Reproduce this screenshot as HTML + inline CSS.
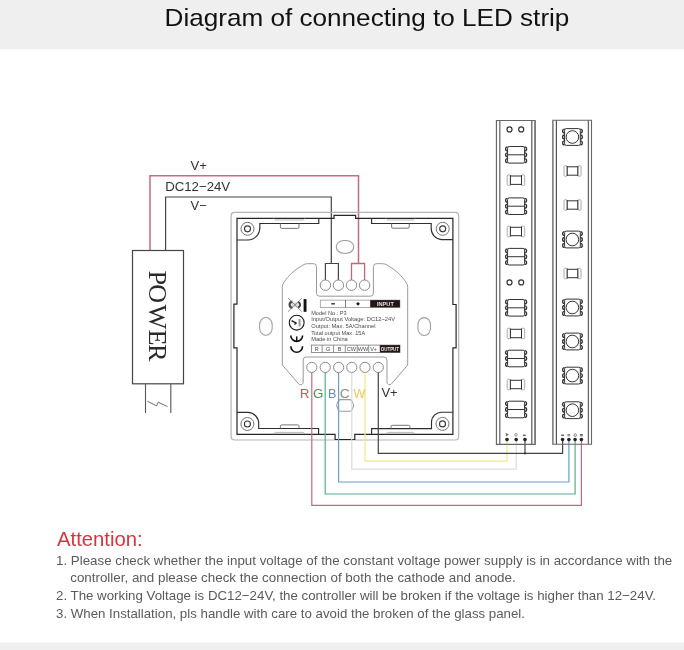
<!DOCTYPE html>
<html><head><meta charset="utf-8">
<style>
html,body{margin:0;padding:0;background:#fff;}
body{width:684px;height:650px;overflow:hidden;position:relative;font-family:"Liberation Sans",sans-serif;}
svg{position:absolute;left:0;top:0;display:block;will-change:transform;}
</style></head>
<body>
<svg width="684" height="650" viewBox="0 0 684 650" font-family="Liberation Sans, sans-serif">
<defs>
<linearGradient id="hs" x1="0" y1="0" x2="0" y2="1"><stop offset="0" stop-color="#fafafa"/><stop offset="1" stop-color="#ffffff"/></linearGradient>
</defs>
<!-- header -->
<rect x="0" y="0" width="684" height="49" fill="#efefef"/>
<rect x="0" y="49" width="684" height="4" fill="url(#hs)"/>
<text x="164.6" y="26.3" font-size="24.6" fill="#111" textLength="404.8" lengthAdjust="spacingAndGlyphs">Diagram of connecting to LED strip</text>
<!-- footer band -->
<rect x="0" y="642.5" width="684" height="8" fill="#efefef"/>

<!-- ===== power supply ===== -->
<g fill="none" stroke-linejoin="miter">
<polyline points="150,250.5 150,175.7 358.5,175.7 358.5,263.5" stroke="#cc6a7e" stroke-width="1.5"/>
<polyline points="351.5,280 351.5,263.5 364.6,263.5 364.6,280" stroke="#c86478" stroke-width="1.3"/>
<polyline points="165.6,250.5 165.6,197 331.3,197 331.3,263.5" stroke="#444" stroke-width="1.2"/>
<polyline points="325.4,280 325.4,263.5 338.4,263.5 338.4,280" stroke="#444" stroke-width="1.2"/>
<rect x="132.5" y="250.5" width="51" height="133.3" stroke="#444" stroke-width="1.2"/>
<line x1="145.5" y1="384" x2="145.5" y2="413" stroke="#555" stroke-width="1.1"/>
<line x1="170.8" y1="384" x2="170.8" y2="413" stroke="#555" stroke-width="1.1"/>
<polyline points="147.5,401.3 156.5,405.8 158.3,402.2 167.5,406.6" stroke="#444" stroke-width="0.8"/>
</g>
<text transform="translate(149.2,0) rotate(90)" font-family="Liberation Serif, serif" font-size="26.2" fill="#2a2a2a" x="270.4 284.3 304.6 329.6 344.1" y="0">POWER</text>
<text x="190.6" y="170.2" font-size="13" fill="#333" textLength="16.4" lengthAdjust="spacingAndGlyphs">V+</text>
<text x="165.2" y="190.5" font-size="13" fill="#333" textLength="65" lengthAdjust="spacingAndGlyphs">DC12−24V</text>
<text x="190.6" y="210.4" font-size="13" fill="#333" textLength="16.2" lengthAdjust="spacingAndGlyphs">V−</text>

<!-- ===== panel ===== -->
<g fill="none">
<rect x="231.1" y="212.4" width="227.6" height="227.6" rx="3.5" stroke="#b4b4b4" stroke-width="1.2"/>
<path d="M237 218.3 L334 218.3 L334 215.3 L355.6 215.3 L355.6 218.3 L452.9 218.3 L452.9 304.5 L456.1 304.5 L456.1 347.8 L452.9 347.8 L452.9 434.3 L354.8 434.3 L354.8 439.5 L335.1 439.5 L335.1 434.3 L237 434.3 L237 347.8 L233.9 347.8 L233.9 304.2 L237 304.2 Z" stroke="#262626" stroke-width="1.2"/>
<path d="M237 240 L248 240 A12 12 0 0 0 259.8 228 L259.8 223.5 L318.8 223.5 L318.8 218.3" stroke="#2e2e2e" stroke-width="1.15"/>
<path d="M452.9 239.6 L441.5 239.6 A11 11 0 0 1 431.2 228.6 L431.2 223.5 L371.6 223.5 L371.6 218.3" stroke="#2e2e2e" stroke-width="1.15"/>
<path d="M237 412.4 L248 412.4 A11 11 0 0 1 258.7 423.4 L258.7 428.5 L318.6 428.5 L318.6 434.3" stroke="#2e2e2e" stroke-width="1.15"/>
<path d="M452.9 412.2 L441.5 412.2 A10 10 0 0 0 431.5 422.2 L431.5 428.6 L371.6 428.6 L371.6 434.3" stroke="#2e2e2e" stroke-width="1.15"/>
<!-- tabs -->
<path d="M280.4 223.4 L280.4 227 Q280.4 228.4 281.8 228.4 L297.6 228.4 Q299 228.4 299 227 L299 223.4" stroke="#666" stroke-width="0.9"/>
<path d="M391.6 223.4 L391.6 227 Q391.6 228.2 392.8 228.2 L408 228.2 Q409.2 228.2 409.2 227 L409.2 223.4" stroke="#666" stroke-width="0.9"/>
<path d="M280.4 428.5 L280.4 426.2 Q280.4 424.9 281.7 424.9 L297.7 424.9 Q299 424.9 299 426.2 L299 428.5" stroke="#666" stroke-width="0.9"/>
<path d="M391 428.6 L391 426.6 Q391 425.3 392.3 425.3 L408.6 425.3 Q409.9 425.3 409.9 426.6 L409.9 428.6" stroke="#666" stroke-width="0.9"/>
<path d="M273.4 218.3 L275.4 220 L303.2 220 L305.2 218.3" stroke="#aaa" stroke-width="0.8"/>
<path d="M385.5 218.3 L387.5 220 L413.3 220 L415.3 218.3" stroke="#aaa" stroke-width="0.8"/>
<path d="M273.4 434 L275.4 432.4 L303.2 432.4 L305.2 434" stroke="#aaa" stroke-width="0.8"/>
<path d="M385.5 434 L387.5 432.4 L413.1 432.4 L415.1 434" stroke="#aaa" stroke-width="0.8"/>
<!-- bosses -->
<g stroke="#666" stroke-width="0.9">
<circle cx="247.5" cy="228.8" r="6.5"/><circle cx="442.7" cy="228.8" r="6.5"/><circle cx="247.4" cy="424" r="6.5"/><circle cx="442.5" cy="423.9" r="6.5"/>
</g>
<g stroke="#3a3a3a" stroke-width="1.15">
<circle cx="247.5" cy="228.8" r="3"/><circle cx="442.7" cy="228.8" r="3"/><circle cx="247.4" cy="424" r="3"/><circle cx="442.5" cy="423.9" r="3"/>
</g>
<!-- slots -->
<g stroke="#9c9c9c" stroke-width="1.05">
<rect x="259.6" y="317.5" width="12.6" height="17.8" rx="6.3" ry="7.2"/>
<rect x="417.9" y="317.6" width="12.6" height="17.8" rx="6.3" ry="7.2"/>
<rect x="336.3" y="240.5" width="17.4" height="12.8" rx="7.6" ry="6.2"/>
<path d="M340.5 399.6 L349.7 399.6 Q351.3 399.6 352.2 401.4 L353.7 405.4 L352.2 409.4 Q351.3 411.2 349.7 411.2 L340.5 411.2 Q338.9 411.2 338 409.4 L336.6 405.4 L338 401.4 Q338.9 399.6 340.5 399.6 Z"/>
</g>
<!-- module outline -->
<path d="M282.3 365 L282.3 287.5 Q282.3 284.5 283.8 282.5 Q290 272.5 303 265 Q305 263.7 307.5 263.7 L313.5 263.7 Q316.5 263.7 316.5 266.7 L316.5 293.2 Q316.5 296.2 319.5 296.2 L370.4 296.2 Q373.4 296.2 373.4 293.2 L373.4 266.7 Q373.4 263.7 376.4 263.7 L382.5 263.7 Q385 263.7 387 265 Q400 272.5 406.2 282.5 Q407.7 284.5 407.7 287.5 L407.7 365 L391.7 383.7 Q390.2 385.3 388.4 384.5 Q387 383.8 387 382 L387 360 Q387 357 384 357 L306.2 357 Q303.2 357 303.2 360 L303.2 382 Q303.2 383.8 301.8 384.5 Q300 385.3 298.5 383.7 L282.3 365" stroke="#999" stroke-width="1"/>
<!-- terminals -->
<g stroke="#888" stroke-width="1" fill="#fff">
<circle cx="325.4" cy="285.2" r="5.2"/><circle cx="338.4" cy="285.2" r="5.2"/><circle cx="351.5" cy="285.2" r="5.2"/><circle cx="364.6" cy="285.2" r="5.2"/>
<circle cx="311.8" cy="367.4" r="5.1"/><circle cx="325.2" cy="367.4" r="5.1"/><circle cx="338.6" cy="367.4" r="5.1"/><circle cx="351.8" cy="367.4" r="5.1"/><circle cx="365" cy="367.4" r="5.1"/><circle cx="378.3" cy="367.4" r="5.1"/>
</g>
</g>

<!-- label -->
<g font-size="6" fill="#4a4a4a">
<rect x="320.3" y="300.1" width="79.6" height="7.3" fill="#fff" stroke="#999" stroke-width="0.8"/>
<line x1="345.5" y1="300.1" x2="345.5" y2="307.4" stroke="#555" stroke-width="0.8"/>
<rect x="370.2" y="300.1" width="29.7" height="7.3" fill="#231815"/>
<rect x="331.3" y="303.1" width="3.6" height="1.4" fill="#333"/>
<path d="M358 301.9 L359.9 303.8 L358 305.7 L356.1 303.8 Z" fill="#1a1a1a"/>
<text x="377" y="306.1" font-size="6.2" font-weight="bold" fill="#e0e0e0" textLength="16.8" lengthAdjust="spacingAndGlyphs">INPUT</text>
<text x="311.2" y="315" textLength="35.5" lengthAdjust="spacingAndGlyphs">Model No.: P3</text>
<text x="311.2" y="321.3" textLength="83.8" lengthAdjust="spacingAndGlyphs">Input/Output Voltage: DC12~24V</text>
<text x="311.2" y="328.3" textLength="64.3" lengthAdjust="spacingAndGlyphs">Output: Max. 5A/Channel</text>
<text x="311.2" y="334.7" textLength="54" lengthAdjust="spacingAndGlyphs">Total output Max. 15A</text>
<text x="311.2" y="341.3" textLength="36.6" lengthAdjust="spacingAndGlyphs">Made in China</text>
<rect x="311.4" y="345.1" width="88.6" height="7.4" fill="#fff" stroke="#777" stroke-width="0.8"/>
<g stroke="#777" stroke-width="0.8">
<line x1="322.2" y1="345.1" x2="322.2" y2="352.5"/><line x1="333.5" y1="345.1" x2="333.5" y2="352.5"/><line x1="345.3" y1="345.1" x2="345.3" y2="352.5"/><line x1="357.2" y1="345.1" x2="357.2" y2="352.5"/><line x1="368.7" y1="345.1" x2="368.7" y2="352.5"/>
</g>
<rect x="379.8" y="345.1" width="20.2" height="7.4" fill="#231815"/>
<g font-size="5.5" text-anchor="middle">
<text x="316.8" y="351">R</text><text x="328.1" y="351">G</text><text x="339.5" y="351">B</text><text x="351.3" y="351">CW</text><text x="363" y="351">WW</text><text x="373.6" y="351">V+</text>
</g>
<text x="380.8" y="351.1" font-size="5.8" font-weight="bold" fill="#f0f0f0" textLength="18.2" lengthAdjust="spacingAndGlyphs">OUTPUT</text>
</g>
<!-- icons -->
<g stroke="#444" fill="none">
<rect x="291.5" y="302.4" width="7.2" height="4.8" fill="#d8d8d8" stroke="none"/>
<path d="M292.2 300.6 Q288.5 301.2 288.5 304.8 Q288.5 308.4 292.2 309 L292.6 307 Q290.7 306.2 290.7 304.8 Q290.7 303.4 292.6 302.6 Z" fill="#4a4a4a" stroke="none"/>
<path d="M298.4 301 Q301.1 302 301.1 304.8 Q301.1 307.6 298.4 308.5 L298 306.6 Q299.3 305.8 299.3 304.8 Q299.3 303.6 298 302.8 Z" fill="#3a3a3a" stroke="none"/>
<line x1="288.1" y1="298.1" x2="301.8" y2="311.6" stroke="#666" stroke-width="0.7"/>
<line x1="301.8" y1="298.1" x2="288.1" y2="311.6" stroke="#666" stroke-width="0.7"/>
<rect x="303.6" y="299.1" width="2.9" height="12.7" fill="#141010" stroke="none"/>
<circle cx="296.7" cy="322.7" r="7.4" stroke="#1a1a1a" stroke-width="1.1"/>
<path d="M291.6 320.6 L296.2 323.2 L294.4 324.6" stroke="#1a1a1a" stroke-width="1.3"/>
<path d="M299.6 319 L299.6 326.4" stroke="#999" stroke-width="2"/>
<path d="M290.8 335.5 A5.9 5.9 0 0 0 302.6 335.5" stroke="#111" stroke-width="1.6"/>
<line x1="296.7" y1="336.4" x2="296.7" y2="341" stroke="#111" stroke-width="1.5"/>
<path d="M290.8 346.3 A5.9 6 0 0 0 302.6 346.3" stroke="#111" stroke-width="1.6"/>
</g>

<!-- ===== output wires ===== -->
<g fill="none" stroke-width="1.2">
<polyline points="311.8,372.5 311.8,505.4 581.4,505.4 581.4,439.6" stroke="#c8687c"/>
<polyline points="325.2,372.5 325.2,494 575.1,494 575.1,439.6" stroke="#5aae88"/>
<polyline points="338.6,372.5 338.6,482 568.9,482 568.9,439.6" stroke="#68a2c2"/>
<polyline points="351.8,372.5 351.8,469.2 516.2,469.2 516.2,439.6" stroke="#dcdadf"/>
<polyline points="365,372.5 365,461.2 507,461.2 507,439.6" stroke="#efe888"/>
<polyline points="378.3,372.5 378.3,453.4 562.6,453.4 562.6,439.6" stroke="#444"/>
<line x1="525" y1="453.4" x2="525" y2="439.6" stroke="#444"/>
</g>
<circle cx="525" cy="453.4" r="1" fill="#333"/>
<g font-size="12.2">
<text x="300" y="397.5" fill="#e04a58" textLength="9.4" lengthAdjust="spacingAndGlyphs">R</text>
<text x="313" y="397.5" fill="#33a05a" textLength="10.4" lengthAdjust="spacingAndGlyphs">G</text>
<text x="328" y="397.5" fill="#4a94d8" textLength="8.4" lengthAdjust="spacingAndGlyphs">B</text>
<text x="339.8" y="397.5" fill="#8a8a8a" textLength="10" lengthAdjust="spacingAndGlyphs">C</text>
<text x="353.6" y="397.5" fill="#f0c850" textLength="11.8" lengthAdjust="spacingAndGlyphs">W</text>
</g>
<text x="381.4" y="396.7" font-size="13" fill="#333">V+</text>

<!-- ===== LED strips ===== -->
<g fill="none" stroke="#666">
<path d="M496.45 444.3 L496.45 120.5 L535.1 120.5 L535.1 444.3 Z" stroke-width="1.2"/>
<line x1="499.8" y1="120.5" x2="499.8" y2="444.3" stroke-width="1.4" stroke="#777"/>
<line x1="531.8" y1="120.5" x2="531.8" y2="444.3" stroke-width="1.3"/>
<line x1="535.1" y1="120.5" x2="535.1" y2="444.3" stroke-width="1.4" stroke="#777"/>
<path d="M552.8 444.3 L552.8 120.3 L591.5 120.3 L591.5 444.3 Z" stroke-width="1.1"/>
<line x1="552.8" y1="120.3" x2="552.8" y2="444.3" stroke-width="1.4" stroke="#8a8a8a"/>
<line x1="556.4" y1="120.3" x2="556.4" y2="444.3" stroke-width="1.2" stroke="#555"/>
<line x1="588.4" y1="120.3" x2="588.4" y2="444.3" stroke-width="1.3"/>
</g>
<g id="strips" fill="none" stroke="#333" stroke-width="1">
<circle cx="509.5" cy="129.4" r="2.5" stroke-width="1.2"/><circle cx="521.2" cy="129.4" r="2.5" stroke-width="1.2"/>
<circle cx="509.5" cy="282.4" r="2.5" stroke-width="1.2"/><circle cx="521.2" cy="282.4" r="2.5" stroke-width="1.2"/>
<rect x="507.6" y="146.5" width="17.0" height="16.6" rx="1.6"/>
<line x1="507.6" y1="154.8" x2="524.6" y2="154.8"/>
<path d="M507.6 146.9 A2 2 0 0 0 507.6 150.9" stroke-width="1.3"/>
<path d="M524.6 146.9 A2 2 0 0 1 524.6 150.9" stroke-width="1.3"/>
<path d="M507.6 152.8 A2 2 0 0 0 507.6 156.8" stroke-width="1.3"/>
<path d="M524.6 152.8 A2 2 0 0 1 524.6 156.8" stroke-width="1.3"/>
<path d="M507.6 158.7 A2 2 0 0 0 507.6 162.7" stroke-width="1.3"/>
<path d="M524.6 158.7 A2 2 0 0 1 524.6 162.7" stroke-width="1.3"/>
<rect x="507.6" y="197.9" width="17.0" height="16.6" rx="1.6"/>
<line x1="507.6" y1="206.2" x2="524.6" y2="206.2"/>
<path d="M507.6 198.3 A2 2 0 0 0 507.6 202.3" stroke-width="1.3"/>
<path d="M524.6 198.3 A2 2 0 0 1 524.6 202.3" stroke-width="1.3"/>
<path d="M507.6 204.2 A2 2 0 0 0 507.6 208.2" stroke-width="1.3"/>
<path d="M524.6 204.2 A2 2 0 0 1 524.6 208.2" stroke-width="1.3"/>
<path d="M507.6 210.1 A2 2 0 0 0 507.6 214.1" stroke-width="1.3"/>
<path d="M524.6 210.1 A2 2 0 0 1 524.6 214.1" stroke-width="1.3"/>
<rect x="507.6" y="248.4" width="17.0" height="16.6" rx="1.6"/>
<line x1="507.6" y1="256.7" x2="524.6" y2="256.7"/>
<path d="M507.6 248.8 A2 2 0 0 0 507.6 252.8" stroke-width="1.3"/>
<path d="M524.6 248.8 A2 2 0 0 1 524.6 252.8" stroke-width="1.3"/>
<path d="M507.6 254.7 A2 2 0 0 0 507.6 258.7" stroke-width="1.3"/>
<path d="M524.6 254.7 A2 2 0 0 1 524.6 258.7" stroke-width="1.3"/>
<path d="M507.6 260.6 A2 2 0 0 0 507.6 264.6" stroke-width="1.3"/>
<path d="M524.6 260.6 A2 2 0 0 1 524.6 264.6" stroke-width="1.3"/>
<rect x="507.6" y="299.5" width="17.0" height="16.6" rx="1.6"/>
<line x1="507.6" y1="307.8" x2="524.6" y2="307.8"/>
<path d="M507.6 299.9 A2 2 0 0 0 507.6 303.9" stroke-width="1.3"/>
<path d="M524.6 299.9 A2 2 0 0 1 524.6 303.9" stroke-width="1.3"/>
<path d="M507.6 305.8 A2 2 0 0 0 507.6 309.8" stroke-width="1.3"/>
<path d="M524.6 305.8 A2 2 0 0 1 524.6 309.8" stroke-width="1.3"/>
<path d="M507.6 311.7 A2 2 0 0 0 507.6 315.7" stroke-width="1.3"/>
<path d="M524.6 311.7 A2 2 0 0 1 524.6 315.7" stroke-width="1.3"/>
<rect x="507.6" y="350.2" width="17.0" height="16.6" rx="1.6"/>
<line x1="507.6" y1="358.5" x2="524.6" y2="358.5"/>
<path d="M507.6 350.6 A2 2 0 0 0 507.6 354.6" stroke-width="1.3"/>
<path d="M524.6 350.6 A2 2 0 0 1 524.6 354.6" stroke-width="1.3"/>
<path d="M507.6 356.5 A2 2 0 0 0 507.6 360.5" stroke-width="1.3"/>
<path d="M524.6 356.5 A2 2 0 0 1 524.6 360.5" stroke-width="1.3"/>
<path d="M507.6 362.4 A2 2 0 0 0 507.6 366.4" stroke-width="1.3"/>
<path d="M524.6 362.4 A2 2 0 0 1 524.6 366.4" stroke-width="1.3"/>
<rect x="507.6" y="401.2" width="17.0" height="16.6" rx="1.6"/>
<line x1="507.6" y1="409.5" x2="524.6" y2="409.5"/>
<path d="M507.6 401.6 A2 2 0 0 0 507.6 405.6" stroke-width="1.3"/>
<path d="M524.6 401.6 A2 2 0 0 1 524.6 405.6" stroke-width="1.3"/>
<path d="M507.6 407.5 A2 2 0 0 0 507.6 411.5" stroke-width="1.3"/>
<path d="M524.6 407.5 A2 2 0 0 1 524.6 411.5" stroke-width="1.3"/>
<path d="M507.6 413.4 A2 2 0 0 0 507.6 417.4" stroke-width="1.3"/>
<path d="M524.6 413.4 A2 2 0 0 1 524.6 417.4" stroke-width="1.3"/>
<rect x="507.2" y="174.9" width="3.2" height="10.6" rx="1.2" stroke="#aaa"/>
<rect x="521.5" y="174.9" width="3.2" height="10.6" rx="1.2" stroke="#aaa"/>
<path d="M510.4 175.2 L510.4 185.2 M521.5 175.2 L521.5 185.2 M510.4 176.0 L521.5 176.0 M510.4 184.4 L521.5 184.4"/>
<rect x="507.2" y="226.2" width="3.2" height="10.6" rx="1.2" stroke="#aaa"/>
<rect x="521.5" y="226.2" width="3.2" height="10.6" rx="1.2" stroke="#aaa"/>
<path d="M510.4 226.5 L510.4 236.5 M521.5 226.5 L521.5 236.5 M510.4 227.3 L521.5 227.3 M510.4 235.7 L521.5 235.7"/>
<rect x="507.2" y="328.2" width="3.2" height="10.6" rx="1.2" stroke="#aaa"/>
<rect x="521.5" y="328.2" width="3.2" height="10.6" rx="1.2" stroke="#aaa"/>
<path d="M510.4 328.5 L510.4 338.5 M521.5 328.5 L521.5 338.5 M510.4 329.3 L521.5 329.3 M510.4 337.7 L521.5 337.7"/>
<rect x="507.2" y="379.2" width="3.2" height="10.6" rx="1.2" stroke="#aaa"/>
<rect x="521.5" y="379.2" width="3.2" height="10.6" rx="1.2" stroke="#aaa"/>
<path d="M510.4 379.5 L510.4 389.5 M521.5 379.5 L521.5 389.5 M510.4 380.3 L521.5 380.3 M510.4 388.7 L521.5 388.7"/>
<rect x="564.6" y="128.6" width="15.7" height="16.8" rx="1.6"/>
<circle cx="572.4" cy="137.0" r="6.3"/>
<path d="M564.6 129.1 A2 2 0 0 0 564.6 133.1" stroke-width="1.3"/>
<path d="M580.3 129.1 A2 2 0 0 1 580.3 133.1" stroke-width="1.3"/>
<path d="M564.6 135.0 A2 2 0 0 0 564.6 139.0" stroke-width="1.3"/>
<path d="M580.3 135.0 A2 2 0 0 1 580.3 139.0" stroke-width="1.3"/>
<path d="M564.6 140.9 A2 2 0 0 0 564.6 144.9" stroke-width="1.3"/>
<path d="M580.3 140.9 A2 2 0 0 1 580.3 144.9" stroke-width="1.3"/>
<rect x="564.6" y="231.1" width="15.7" height="16.8" rx="1.6"/>
<circle cx="572.4" cy="239.5" r="6.3"/>
<path d="M564.6 231.6 A2 2 0 0 0 564.6 235.6" stroke-width="1.3"/>
<path d="M580.3 231.6 A2 2 0 0 1 580.3 235.6" stroke-width="1.3"/>
<path d="M564.6 237.5 A2 2 0 0 0 564.6 241.5" stroke-width="1.3"/>
<path d="M580.3 237.5 A2 2 0 0 1 580.3 241.5" stroke-width="1.3"/>
<path d="M564.6 243.4 A2 2 0 0 0 564.6 247.4" stroke-width="1.3"/>
<path d="M580.3 243.4 A2 2 0 0 1 580.3 247.4" stroke-width="1.3"/>
<rect x="564.6" y="299.1" width="15.7" height="16.8" rx="1.6"/>
<circle cx="572.4" cy="307.5" r="6.3"/>
<path d="M564.6 299.6 A2 2 0 0 0 564.6 303.6" stroke-width="1.3"/>
<path d="M580.3 299.6 A2 2 0 0 1 580.3 303.6" stroke-width="1.3"/>
<path d="M564.6 305.5 A2 2 0 0 0 564.6 309.5" stroke-width="1.3"/>
<path d="M580.3 305.5 A2 2 0 0 1 580.3 309.5" stroke-width="1.3"/>
<path d="M564.6 311.4 A2 2 0 0 0 564.6 315.4" stroke-width="1.3"/>
<path d="M580.3 311.4 A2 2 0 0 1 580.3 315.4" stroke-width="1.3"/>
<rect x="564.6" y="333.1" width="15.7" height="16.8" rx="1.6"/>
<circle cx="572.4" cy="341.5" r="6.3"/>
<path d="M564.6 333.6 A2 2 0 0 0 564.6 337.6" stroke-width="1.3"/>
<path d="M580.3 333.6 A2 2 0 0 1 580.3 337.6" stroke-width="1.3"/>
<path d="M564.6 339.5 A2 2 0 0 0 564.6 343.5" stroke-width="1.3"/>
<path d="M580.3 339.5 A2 2 0 0 1 580.3 343.5" stroke-width="1.3"/>
<path d="M564.6 345.4 A2 2 0 0 0 564.6 349.4" stroke-width="1.3"/>
<path d="M580.3 345.4 A2 2 0 0 1 580.3 349.4" stroke-width="1.3"/>
<rect x="564.6" y="367.2" width="15.7" height="16.8" rx="1.6"/>
<circle cx="572.4" cy="375.6" r="6.3"/>
<path d="M564.6 367.7 A2 2 0 0 0 564.6 371.7" stroke-width="1.3"/>
<path d="M580.3 367.7 A2 2 0 0 1 580.3 371.7" stroke-width="1.3"/>
<path d="M564.6 373.6 A2 2 0 0 0 564.6 377.6" stroke-width="1.3"/>
<path d="M580.3 373.6 A2 2 0 0 1 580.3 377.6" stroke-width="1.3"/>
<path d="M564.6 379.5 A2 2 0 0 0 564.6 383.5" stroke-width="1.3"/>
<path d="M580.3 379.5 A2 2 0 0 1 580.3 383.5" stroke-width="1.3"/>
<rect x="564.6" y="401.8" width="15.7" height="16.8" rx="1.6"/>
<circle cx="572.4" cy="410.2" r="6.3"/>
<path d="M564.6 402.3 A2 2 0 0 0 564.6 406.3" stroke-width="1.3"/>
<path d="M580.3 402.3 A2 2 0 0 1 580.3 406.3" stroke-width="1.3"/>
<path d="M564.6 408.2 A2 2 0 0 0 564.6 412.2" stroke-width="1.3"/>
<path d="M580.3 408.2 A2 2 0 0 1 580.3 412.2" stroke-width="1.3"/>
<path d="M564.6 414.1 A2 2 0 0 0 564.6 418.1" stroke-width="1.3"/>
<path d="M580.3 414.1 A2 2 0 0 1 580.3 418.1" stroke-width="1.3"/>
<rect x="564" y="165.7" width="3.2" height="10.6" rx="1.2" stroke="#aaa"/>
<rect x="577.8" y="165.7" width="3.2" height="10.6" rx="1.2" stroke="#aaa"/>
<path d="M567.2 166.0 L567.2 176.0 M577.8 166.0 L577.8 176.0 M567.2 166.8 L577.8 166.8 M567.2 175.2 L577.8 175.2"/>
<rect x="564" y="199.7" width="3.2" height="10.6" rx="1.2" stroke="#aaa"/>
<rect x="577.8" y="199.7" width="3.2" height="10.6" rx="1.2" stroke="#aaa"/>
<path d="M567.2 200.0 L567.2 210.0 M577.8 200.0 L577.8 210.0 M567.2 200.8 L577.8 200.8 M567.2 209.2 L577.8 209.2"/>
<rect x="564" y="268.2" width="3.2" height="10.6" rx="1.2" stroke="#aaa"/>
<rect x="577.8" y="268.2" width="3.2" height="10.6" rx="1.2" stroke="#aaa"/>
<path d="M567.2 268.5 L567.2 278.5 M577.8 268.5 L577.8 278.5 M567.2 269.3 L577.8 269.3 M567.2 277.7 L577.8 277.7"/>
</g>
<g fill="#222">
<circle cx="507" cy="439.6" r="1.8"/><circle cx="516.2" cy="439.6" r="1.8"/><circle cx="525" cy="439.6" r="1.8"/>
<circle cx="562.6" cy="439.6" r="1.8"/><circle cx="568.9" cy="439.6" r="1.8"/><circle cx="575.1" cy="439.6" r="1.8"/><circle cx="581.4" cy="439.6" r="1.8"/>
</g>

<g fill="none" stroke="#555" stroke-width="0.9">
<path d="M505.6 433.4 L508.4 434.6 L505.8 436 M506.4 433.6 L506.4 435.8" stroke="#666"/>
<circle cx="516" cy="434.8" r="1.3" stroke="#888"/>
<path d="M522.9 435.2 L525.7 435.2" stroke="#333" stroke-width="1.1"/>
<path d="M561.2 435.2 L564 435.2" stroke="#333" stroke-width="1.1"/>
<path d="M567.4 434.6 L570.2 434.6 M567.4 435.8 L570.2 435.8" stroke="#7a6a70"/>
<circle cx="575.2" cy="435.2" r="1.3" stroke="#777"/>
<path d="M580 434.6 L582.8 434.6 M580 435.8 L582.8 435.8" stroke="#444"/>
</g>

<!-- ===== attention ===== -->
<text x="57" y="545.5" font-size="20.3" fill="#e0303c">Attention:</text>
<g font-size="13.3" fill="#5a5a5a">
<text x="56" y="564.6" textLength="616.2" lengthAdjust="spacingAndGlyphs">1. Please check whether the input voltage of the constant voltage power supply is in accordance with the</text>
<text x="70.2" y="582" textLength="445.5" lengthAdjust="spacingAndGlyphs">controller, and please check the connection of both the cathode and anode.</text>
<text x="56" y="600.4" textLength="600" lengthAdjust="spacingAndGlyphs">2. The working Voltage is DC12−24V, the controller will be broken if the voltage is higher than 12−24V.</text>
<text x="56" y="618.4" textLength="469" lengthAdjust="spacingAndGlyphs">3. When Installation, pls handle with care to avoid the broken of the glass panel.</text>
</g>
</svg>
</body></html>
